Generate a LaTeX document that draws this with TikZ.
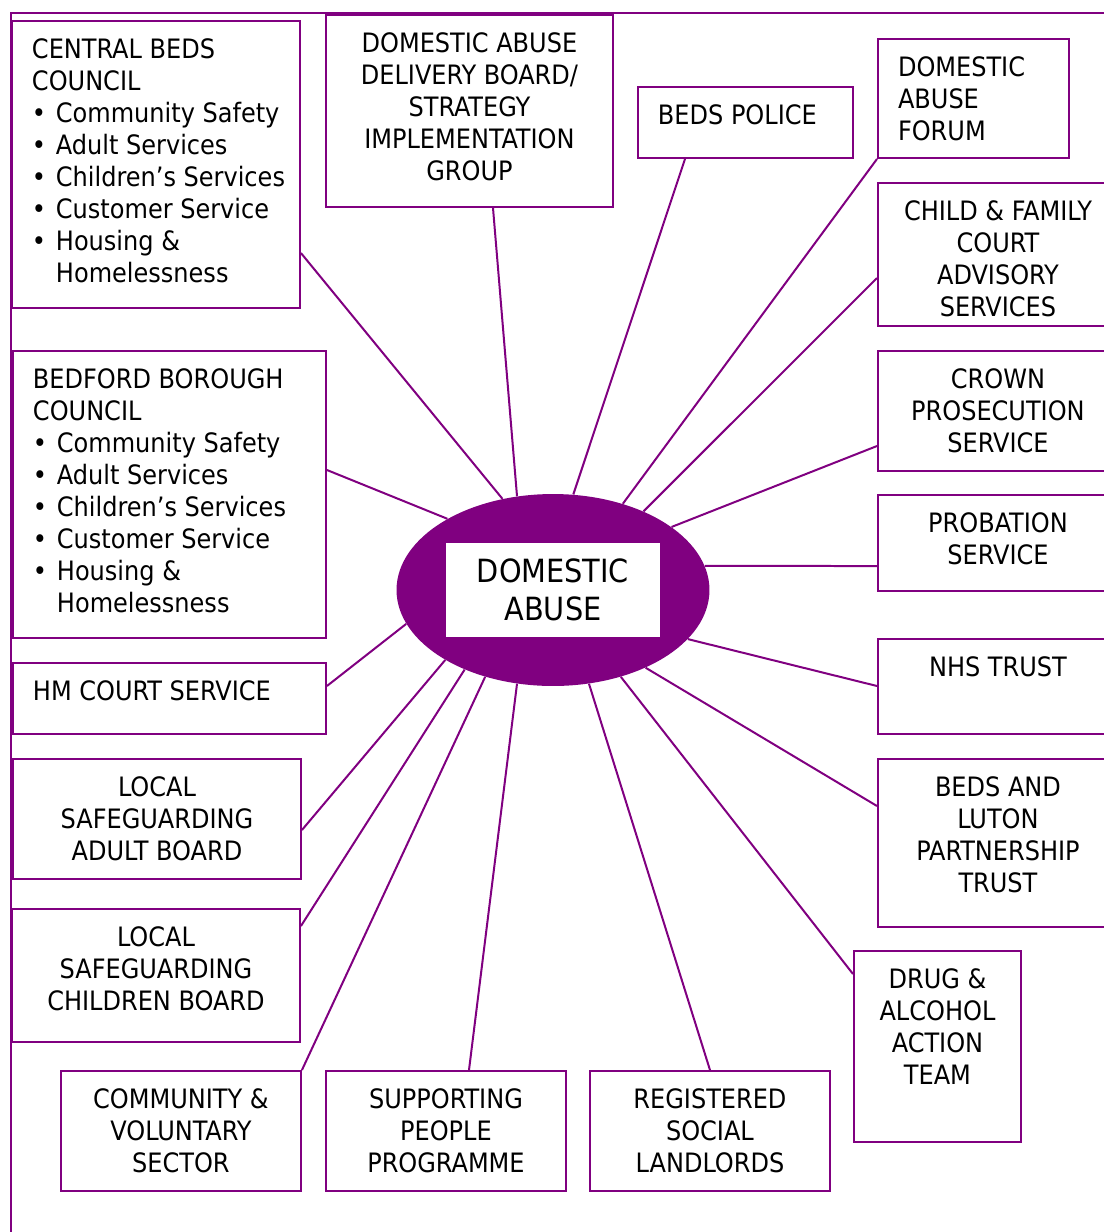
\documentclass[tikz,border=0pt]{standalone}
\usepackage{fontspec}
\setmainfont{DejaVu Sans Condensed}
\usetikzlibrary{shapes.geometric}
\definecolor{dapurple}{RGB}{128,0,128}
\newcommand{\orgfont}{\fontsize{15.2pt}{18.2pt}\selectfont}
\newcommand{\corefont}{\fontsize{18.2pt}{21.6pt}\selectfont}
% box text: width, height, text (top aligned)
\newcommand{\orgbody}[3]{\parbox[c][#2][t]{#1}{\vspace*{0.36cm}#3}}
\newcommand{\lefttext}{\raggedright\leftskip=0.4cm\relax}
\newcommand{\bitem}[1]{\par\hangindent=0.48cm\noindent\makebox[0.48cm][l]{\textbullet}#1}
\tikzset{org/.style={draw=dapurple,line width=0.04cm,anchor=north west,inner sep=0pt,font=\orgfont},
  link/.style={draw=dapurple,line width=0.04cm}}

\begin{document}
\begin{tikzpicture}[x=0.02cm,y=-0.02cm]
\useasboundingbox (0,0) rectangle (1104,1232);
\draw[link] (11,1232) -- (11,13) -- (1104,13);

% centre
\node[ellipse,fill=dapurple,minimum width=6.26cm,minimum height=3.84cm,inner sep=0pt] (ell) at (553,590) {};
\node[fill=white,minimum width=4.28cm,minimum height=1.88cm,inner sep=0pt,align=center,font=\corefont] (core) at (553,590) {DOMESTIC\\ABUSE};

% left column
\node[org] (cb) at (11,20) {\orgbody{5.76cm}{5.74cm}{\lefttext CENTRAL BEDS\\COUNCIL\bitem{Community Safety}\bitem{Adult Services}\bitem{Children’s Services}\bitem{Customer Service}\bitem{Housing \&\newline Homelessness}}};
\node[org] (bbc) at (12,350) {\orgbody{6.26cm}{5.74cm}{\lefttext BEDFORD BOROUGH\\COUNCIL\bitem{Community Safety}\bitem{Adult Services}\bitem{Children’s Services}\bitem{Customer Service}\bitem{Housing \&\newline Homelessness}}};
\node[org] (hmcs) at (12,662) {\orgbody{6.26cm}{1.42cm}{\lefttext HM COURT SERVICE}};
\node[org] (lsab) at (12,758) {\orgbody{5.76cm}{2.4cm}{\centering LOCAL\\SAFEGUARDING\\ADULT BOARD}};
\node[org] (lscb) at (11,908) {\orgbody{5.76cm}{2.66cm}{\centering LOCAL\\SAFEGUARDING\\CHILDREN BOARD}};

% top and bottom rows
\node[org] (dab) at (325,14) {\orgbody{5.74cm}{3.84cm}{\centering DOMESTIC ABUSE\\DELIVERY BOARD/\\STRATEGY\\IMPLEMENTATION\\GROUP}};
\node[org] (police) at (637,86) {\orgbody{4.3cm}{1.42cm}{\lefttext BEDS POLICE}};
\node[org] (cvs) at (60,1070) {\orgbody{4.8cm}{2.4cm}{\centering COMMUNITY \&\\VOLUNTARY\\SECTOR}};
\node[org] (spp) at (325,1070) {\orgbody{4.8cm}{2.4cm}{\centering SUPPORTING\\PEOPLE\\PROGRAMME}};
\node[org] (rsl) at (589,1070) {\orgbody{4.8cm}{2.4cm}{\centering REGISTERED\\SOCIAL\\LANDLORDS}};

% right column
\node[org] (forum) at (877,38) {\orgbody{3.82cm}{2.38cm}{\lefttext DOMESTIC\\ABUSE\\FORUM}};
\node[org] (cafcass) at (877,182) {\orgbody{4.8cm}{2.86cm}{\centering CHILD \& FAMILY\\COURT\\ADVISORY\\SERVICES}};
\node[org] (cps) at (877,350) {\orgbody{4.8cm}{2.4cm}{\centering CROWN\\PROSECUTION\\SERVICE}};
\node[org] (probation) at (877,494) {\orgbody{4.8cm}{1.92cm}{\centering PROBATION\\SERVICE}};
\node[org] (nhs) at (877,638) {\orgbody{4.8cm}{1.9cm}{\centering NHS TRUST}};
\node[org] (blpt) at (877,758) {\orgbody{4.8cm}{3.36cm}{\centering BEDS AND\\LUTON\\PARTNERSHIP\\TRUST}};
\node[org] (daat) at (853,950) {\orgbody{3.34cm}{3.82cm}{\centering DRUG \&\\ALCOHOL\\ACTION\\TEAM}};

% spokes
\draw[link] (cb.east |- 0,253) -- (ell.119);
\draw[link] (dab.south -| 493,0) -- (ell.111);
\draw[link] (police.south -| 685,0) -- (ell.78);
\draw[link] (forum.south west) -- (ell.51);
\draw[link] (cafcass.west |- 0,278) -- (ell.41);
\draw[link] (cps.west |- 0,446) -- (ell.28);
\draw[link] (probation.west |- 0,566) -- (ell.9);
\draw[link] (nhs.west |- 0,686) -- (ell.-20);
\draw[link] (blpt.west |- 0,806) -- (ell.-40);
\draw[link] (daat.west |- 0,974) -- (ell.-52);
\draw[link] (rsl.north) -- (ell.-69);
\draw[link] (spp.north -| 469,0) -- (ell.-111);
\draw[link] (cvs.north east) -- (ell.-128);
\draw[link] (lscb.east |- 0,926) -- (ell.-138);
\draw[link] (lsab.east |- 0,830) -- (ell.-147);
\draw[link] (hmcs.east |- 0,686) -- (ell.-167);
\draw[link] (bbc.east |- 0,470) -- (ell.146);
\end{tikzpicture}
\end{document}
